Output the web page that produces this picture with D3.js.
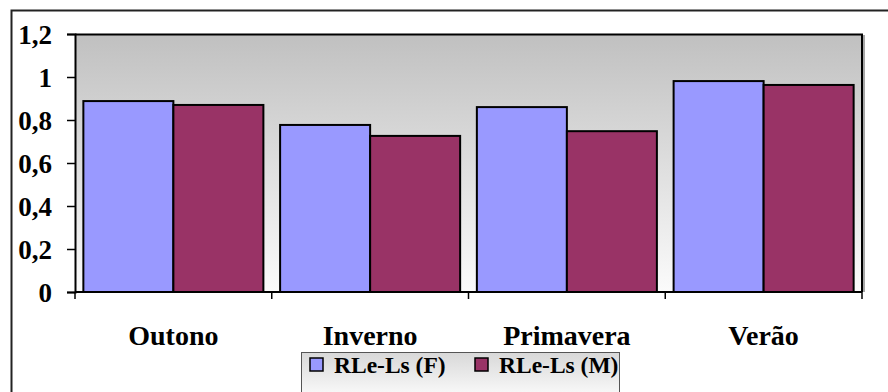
<!DOCTYPE html>
<html><head><meta charset="utf-8">
<script src="https://cdn.jsdelivr.net/npm/d3@7"></script>
<style>body{margin:0;background:#fff}svg{display:block}
text{font-family:"Liberation Serif","Times New Roman",Tinos,"DejaVu Serif",serif;font-weight:bold;fill:#000}
</style>
</head><body>
<script>
const categories = ["Outono", "Inverno", "Primavera", "Verão"];
const seriesNames = ["RLe-Ls (F)", "RLe-Ls (M)"];
const valuesF = [0.888, 0.777, 0.86, 0.981];
const valuesM = [0.87, 0.726, 0.748, 0.963];
const yTicks = [0, 0.2, 0.4, 0.6, 0.8, 1, 1.2];
const yTickLabels = ["0", "0,2", "0,4", "0,6", "0,8", "1", "1,2"];
const colors = ["#9999ff", "#993366"];

const W = 888, H = 392;
const svg = d3.select("body").append("svg").attr("width", W).attr("height", H);
const defs = svg.append("defs");
const g1 = defs.append("linearGradient").attr("id","bg").attr("x1",0).attr("y1",0).attr("x2",0).attr("y2",1);
g1.append("stop").attr("offset","0").attr("stop-color","#c0c0c0");
g1.append("stop").attr("offset","1").attr("stop-color","#fbfbfb");
const g2 = defs.append("linearGradient").attr("id","lg").attr("x1",0).attr("y1",0).attr("x2",0).attr("y2",1);
g2.append("stop").attr("offset","0").attr("stop-color","#d8d8d8");
g2.append("stop").attr("offset","1").attr("stop-color","#ffffff");

// outer frame (top and left visible)
svg.append("path").attr("d","M11.5,392 V10.5 H888").attr("fill","none").attr("stroke","#222").attr("stroke-width",2);

const m = {l:75, t:34, r:862, b:292};
const x = d3.scaleBand().domain(categories).range([m.l, m.r]).paddingInner(0.085).paddingOuter(0.0425);
const xs = d3.scaleBand().domain(seriesNames).range([0, x.bandwidth()]);
const y = d3.scaleLinear().domain([0, 1.2]).range([m.b, m.t]);

svg.append("rect").attr("x",m.l).attr("y",m.t).attr("width",m.r-m.l).attr("height",m.b-m.t).attr("fill","url(#bg)");
svg.append("path").attr("d",`M${m.l},${m.t+0.5} H${m.r} V${m.b}`).attr("fill","none").attr("stroke","#000").attr("stroke-width",2);
svg.append("line").attr("x1",m.r+2).attr("x2",m.r+2).attr("y1",m.t+1).attr("y2",m.b).attr("stroke","#888").attr("stroke-width",1.5);

const series = [valuesF, valuesM];
series.forEach((vals, si) => {
  svg.append("g").selectAll("rect").data(categories).join("rect")
    .attr("x", (c) => x(c) + xs(seriesNames[si]))
    .attr("y", (c, i) => y(vals[i]))
    .attr("width", xs.bandwidth())
    .attr("height", (c, i) => y(0) - y(vals[i]))
    .attr("fill", colors[si]).attr("stroke","#000").attr("stroke-width",2);
});

// y axis
const ya = svg.append("g").attr("transform",`translate(${m.l},0)`)
  .call(d3.axisLeft(y).tickValues(yTicks).tickFormat((d,i)=>yTickLabels[i]).tickSize(8).tickPadding(15));
ya.attr("font-family", null).attr("font-size", null);
ya.select(".domain").attr("stroke","#000").attr("stroke-width",2);
ya.selectAll(".tick line").attr("stroke","#000").attr("stroke-width",1.5);
ya.selectAll(".tick text").style("font-size","27px").attr("fill","#000").attr("dy","0.35em");

// x axis
const xa = svg.append("g").attr("transform",`translate(0,${m.b})`);
xa.append("line").attr("x1",m.l).attr("x2",m.r).attr("stroke","#000").attr("stroke-width",2);
const bounds = d3.range(categories.length + 1).map(i => m.l + i * x.step());
xa.selectAll("line.t").data(bounds).join("line").attr("class","t")
  .attr("x1",d=>d).attr("x2",d=>d).attr("y1",0).attr("y2",7).attr("stroke","#000").attr("stroke-width",1.5);
xa.selectAll("text").data(categories).join("text")
  .attr("x", c => x(c) + x.bandwidth()/2).attr("y", 53)
  .attr("text-anchor","middle").style("font-size","28px").text(d=>d);

// legend
const lg = svg.append("g");
lg.append("rect").attr("x",301.5).attr("y",352.5).attr("width",318).attr("height",50).attr("fill","url(#lg)").attr("stroke","#555").attr("stroke-width",1);
const lx = [310, 475];
seriesNames.forEach((s, i) => {
  lg.append("rect").attr("x",lx[i]).attr("y",358).attr("width",13).attr("height",13).attr("fill",colors[i]).attr("stroke","#000").attr("stroke-width",1.5);
  lg.append("text").attr("x",lx[i]+24).attr("y",373).style("font-size","23.5px").text(s);
});
</script>
</body></html>
